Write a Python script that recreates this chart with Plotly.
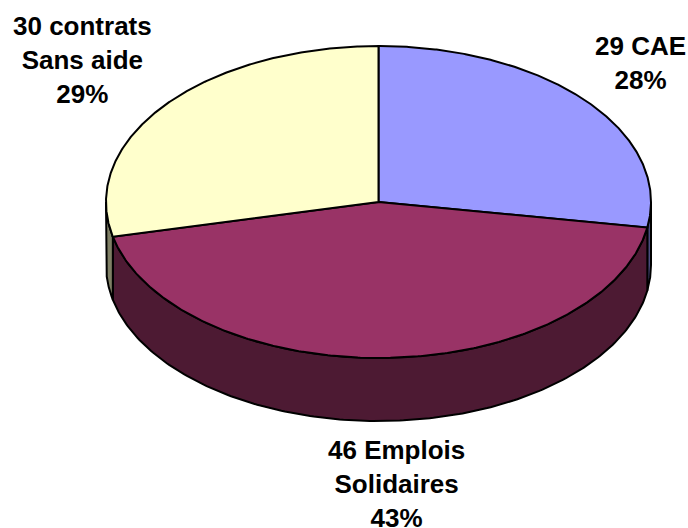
import numpy as np
import plotly.graph_objects as go

categories = ["<b>29 CAE</b><br><b>28%</b>", "<b>46 Emplois</b><br><b>Solidaires</b><br><b>43%</b>", "<b>30 contrats</b><br><b>Sans aide</b><br><b>29%</b>"]
values = [29, 46, 30]
top_colors = ["#9999FF", "#993366", "#FFFFCC"]
side_colors = ["#4D4D80", "#4D1A33", "#808066"]
label_pos = [(640, 63), (396, 484), (82, 60)]

CX, CY, RX, RY, DEPTH = 378.5, 202, 272.5, 156, 63
LINE = dict(color="black", width=2)


def ell(t):
    return CX + RX * np.sin(t), CY - RY * np.cos(t)


fig = go.Figure()
fractions = np.cumsum([0] + values) / sum(values) * 2 * np.pi

# Side walls (only the front half of the ellipse is visible)
for i in range(len(values)):
    a, b = max(fractions[i], np.pi / 2), min(fractions[i + 1], 3 * np.pi / 2)
    if b <= a:
        continue
    t = np.linspace(a, b, 200)
    x, y = ell(t)
    fig.add_trace(go.Scatter(
        x=np.r_[x, x[::-1], x[0]], y=np.r_[y, y[::-1] + DEPTH, y[0]],
        mode="lines", fill="toself", fillcolor=side_colors[i], line=LINE, hoverinfo="skip"))

# Top faces
for i in range(len(values)):
    t = np.linspace(fractions[i], fractions[i + 1], 300)
    x, y = ell(t)
    fig.add_trace(go.Scatter(
        x=np.r_[CX, x, CX], y=np.r_[CY, y, CY],
        mode="lines", fill="toself", fillcolor=top_colors[i], line=LINE, hoverinfo="skip"))

for text, (x, y) in zip(categories, label_pos):
    fig.add_annotation(x=x, y=y, text=text, showarrow=False, align="center",
                       font=dict(family="Liberation Sans", size=26, color="black"))

fig.update_layout(
    width=688, height=528, margin=dict(l=0, r=0, t=0, b=0), showlegend=False,
    paper_bgcolor="white", plot_bgcolor="white",
    xaxis=dict(range=[0, 688], visible=False, fixedrange=True),
    yaxis=dict(range=[528, 0], visible=False, fixedrange=True),
)
fig.write_html("out.html", config={"displayModeBar": False},
               post_script="document.body.style.margin='0';document.documentElement.style.overflow='hidden';")
